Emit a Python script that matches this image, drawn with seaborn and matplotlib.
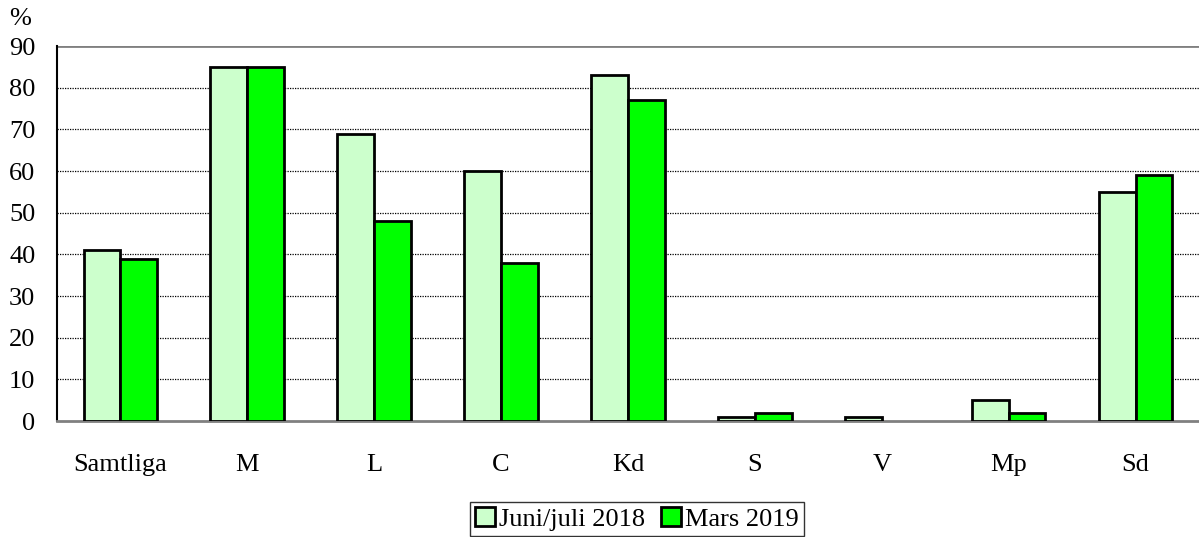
import pandas as pd
import matplotlib.pyplot as plt
import matplotlib as mpl
import seaborn as sns
from matplotlib.patches import Patch

sns.set_theme(style="white")

mpl.rcParams.update({
    "font.family": ["Liberation Serif", "DejaVu Serif"],
    "font.size": 19,
    "text.color": "black",
    "xtick.color": "black",
    "ytick.color": "black",
})

categories = ["Samtliga", "M", "L", "C", "Kd", "S", "V", "Mp", "Sd"]
juni_juli_2018 = [41, 85, 69, 60, 83, 1, 1, 5, 55]
mars_2019 = [39, 85, 48, 38, 77, 2, 0, 2, 59]
series = ["Juni/juli 2018", "Mars 2019"]
colors = ["#ccffcc", "#00ff00"]

df = pd.DataFrame({
    "kategori": categories * 2,
    "varde": juni_juli_2018 + mars_2019,
    "serie": [series[0]] * len(categories) + [series[1]] * len(categories),
})

fig = plt.figure(figsize=(11.99, 5.37), dpi=100)
ax = fig.add_axes([0.0475, 0.216, 0.9525, 0.698])

sns.barplot(data=df, x="kategori", y="varde", hue="serie", palette=colors,
            saturation=1, edgecolor="black", linewidth=2, width=0.58, gap=0, ax=ax,
            legend=False, zorder=3)

# zero-height bars are not drawn in the original
for p in ax.patches:
    if p.get_height() == 0:
        p.set_visible(False)

ax.set_ylim(0, 90)
ax.set_yticks(range(0, 91, 10))
ax.set_xlim(-0.5, len(categories) - 0.5)
for y in range(10, 90, 10):
    ax.axhline(y, color="black", linestyle=(0, (1, 1)), linewidth=0.9, zorder=1)
ax.axhline(90, color="#808080", linewidth=2, zorder=1)

ax.set_xlabel("")
ax.set_ylabel("")
ax.set_xticks(range(len(categories)))
ax.set_xticklabels(categories)
ax.set_xticks([i - 0.5 for i in range(len(categories) + 1)], minor=True)
ax.tick_params(axis="x", which="major", length=0, pad=24, labelsize=19)
ax.tick_params(axis="x", which="minor", length=7, width=1.5, color="#808080", direction="out")
ax.tick_params(axis="y", length=6.5, width=1.5, color="black", direction="out", pad=9, labelsize=19)

for side in ["top", "right"]:
    ax.spines[side].set_visible(False)
ax.spines["left"].set_color("black")
ax.spines["left"].set_linewidth(1.5)
ax.spines["bottom"].set_color("#808080")
ax.spines["bottom"].set_linewidth(2)

fig.text(0.008, 0.965, "%", fontsize=19, va="center", ha="left")

handles = [Patch(facecolor=c, edgecolor="black", linewidth=2, label=s) for c, s in zip(colors, series)]
fig.legend(handles=handles, loc="upper center", bbox_to_anchor=(0.531, 0.066), ncol=2,
           frameon=True, fancybox=False, edgecolor="black", fontsize=19,
           handlelength=0.75, handleheight=0.75, handletextpad=0.15, columnspacing=0.6,
           borderpad=0.2, borderaxespad=0)

fig.savefig("out.png", dpi=100)
